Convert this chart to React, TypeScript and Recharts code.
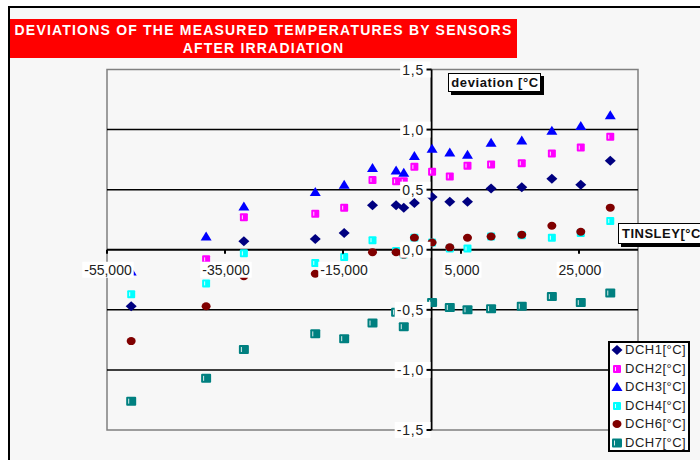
import React from 'react';
import { ScatterChart, Scatter, XAxis, YAxis, ReferenceLine, ReferenceArea } from 'recharts';

// ---------- data ----------
const tinsley = [-50.9, -38.2, -31.8, -19.7, -14.8, -10.0, -6.0, -4.7, -2.9, 0.1, 3.1, 6.1, 10.1, 15.3, 20.4, 25.3, 30.3];
const dch1 = [-0.47, -0.18, 0.07, 0.09, 0.14, 0.37, 0.37, 0.35, 0.39, 0.44, 0.40, 0.40, 0.51, 0.52, 0.59, 0.54, 0.74];
const dch2 = [null, -0.08, 0.27, 0.30, 0.35, 0.58, 0.57, 0.57, 0.69, 0.65, 0.61, 0.70, 0.71, 0.72, 0.80, 0.85, 0.94];
const dch3 = [-0.18, 0.11, 0.36, 0.48, 0.54, 0.68, 0.66, 0.64, 0.78, 0.84, 0.81, 0.79, 0.89, 0.91, 0.99, 1.03, 1.12];
const dch4 = [-0.37, -0.28, -0.03, -0.11, -0.06, 0.08, -0.01, -0.04, 0.10, 0.06, 0.01, 0.01, 0.11, 0.12, 0.10, 0.14, 0.24];
const dch6 = [-0.76, -0.47, -0.22, -0.20, null, -0.02, -0.02, -0.04, 0.10, 0.06, 0.02, 0.10, 0.11, 0.125, 0.20, 0.15, 0.35];
const dch7 = [-1.26, -1.07, -0.83, -0.70, -0.74, -0.61, -0.52, -0.64, null, -0.44, -0.48, -0.50, -0.49, -0.47, -0.39, -0.44, -0.36];

const seriesNames = ['DCH1[°C]', 'DCH2[°C]', 'DCH3[°C]', 'DCH4[°C]', 'DCH6[°C]', 'DCH7[°C]'];
const xTicks = [-55, -35, -15, 5, 25];
const yTicks = [-1.5, -1, -0.5, 0, 0.5, 1, 1.5];
const gridValues = [-1, -0.5, 0.5, 1];
const xDomain = [-55, 35];
const yDomain = [-1.5, 1.5];

const titleLines = ['DEVIATIONS OF THE MEASURED TEMPERATURES BY SENSORS', 'AFTER IRRADIATION'];
const yTitle = 'deviation [°C';
const xTitle = 'TINSLEY[°C';

// ---------- layout ----------
const W = 690;
const H = 452;
const AX = 1; // axis thickness reserved
const M = { top: 61.5, right: 62, bottom: 30 - AX, left: 97 - AX };
const PL = M.left + AX;
const PT = M.top;
const PW = W - PL - M.right;
const PH = H - PT - M.bottom - AX;
const ZERO_X = PL + (PW * (0 - xDomain[0])) / (xDomain[1] - xDomain[0]);
const ZERO_Y = PT + (PH * (yDomain[1] - 0)) / (yDomain[1] - yDomain[0]);
const FONT = '"Liberation Sans", Arial, sans-serif';

const toPoints = (ys: (number | null)[]) =>
  tinsley.map((x, i) => ({ x, y: ys[i] })).filter((p) => p.y !== null);

const charW: Record<string, number> = { ',': 0.278, '.': 0.278, '-': 0.333 };
const textWidth = (s: string, size: number, ls = 0) =>
  s.split('').reduce((a, c) => a + (charW[c] ?? 0.556) * size + ls, 0);

const fmtX = (v: number) => v.toFixed(3).replace('.', ',');
const fmtY = (v: number) => v.toFixed(1).replace('.', ',');

// ---------- marker shapes ----------
const DiamondM = ({ cx, cy }: any) => (
  <polygon points={`${cx},${cy - 5} ${cx + 5.5},${cy} ${cx},${cy + 5} ${cx - 5.5},${cy}`} fill="#000080" />
);
const TriangleM = ({ cx, cy }: any) => (
  <polygon points={`${cx},${cy - 5} ${cx + 5.5},${cy + 4} ${cx - 5.5},${cy + 4}`} fill="#0000ff" />
);
const CircleM = ({ cx, cy }: any) => <ellipse cx={cx} cy={cy} rx={4.5} ry={4} fill="#800000" />;
const makeSquare = (color: string, w: number, h: number) => ({ cx, cy }: any) => (
  <g>
    <rect x={cx - w / 2} y={cy - h / 2} width={w} height={h} fill={color} rx={1} />
    <rect x={cx - w / 2 + 2} y={cy - h / 2 + 2} width={1} height={h - 4} fill="#ffffff" opacity={0.85} />
  </g>
);
const MagentaSq = makeSquare('#ff00ff', 8, 8);
const CyanSq = makeSquare('#00ffff', 8, 8);
const TealSq = makeSquare('#008080', 10, 9);

const shapes = [DiamondM, MagentaSq, TriangleM, CyanSq, CircleM, TealSq];
const seriesData = [dch1, dch2, dch3, dch4, dch6, dch7];

// ---------- ticks ----------
const renderXTick = (props: any) => {
  const { x, payload } = props;
  const label = fmtX(payload.value);
  const w = textWidth(label, 14) + 4;
  return (
    <g key={`xt-${payload.value}`}>
      <line x1={x} x2={x} y1={ZERO_Y} y2={ZERO_Y + 4} stroke="#000" strokeWidth={2} />
      <rect x={x - w / 2 + 1} y={ZERO_Y + 12} width={w} height={16} fill="#ffffff" />
      <text x={x + 1} y={ZERO_Y + 25.5} textAnchor="middle" fontSize={14} fontFamily={FONT} fill="#222">
        {label}
      </text>
    </g>
  );
};

const renderYTick = (props: any) => {
  const { y, payload } = props;
  const label = fmtY(payload.value);
  const ls = 0.8;
  const w = textWidth(label, 14, ls);
  const end = ZERO_X - 7.5;
  return (
    <g key={`yt-${payload.value}`}>
      <rect x={end - w - 2} y={y - 8} width={ZERO_X - 1 - (end - w - 2)} height={16} fill="#ffffff" />
      <line x1={ZERO_X - 5} x2={ZERO_X} y1={y} y2={y} stroke="#000" strokeWidth={2} />
      <text x={end} y={y + 5} textAnchor="end" fontSize={14} fontFamily={FONT} fill="#222" letterSpacing={ls}>
        {label}
      </text>
    </g>
  );
};

const LegendSymbol = ({ i }: { i: number }) => {
  const S = shapes[i];
  return (
    <svg width={14} height={14} style={{ position: 'absolute', left: 0, top: 2 }}>
      <S cx={7} cy={7} />
    </svg>
  );
};

export default function App() {
  return (
    <div
      style={{
        position: 'absolute',
        left: 8,
        top: 6,
        width: 692,
        height: 454,
        boxSizing: 'border-box',
        borderTop: '2px solid #000',
        borderLeft: '2px solid #000',
        background: '#f7f7f7',
        overflow: 'hidden',
        fontFamily: FONT,
      }}
    >
      <div style={{ position: 'absolute', left: 0, top: 0 }}>
        <ScatterChart width={W} height={H} margin={M}>
          <ReferenceArea
            x1={xDomain[0]}
            x2={xDomain[1]}
            y1={yDomain[0]}
            y2={yDomain[1]}
            fill="none"
            fillOpacity={0}
            stroke="#808080"
            strokeWidth={1.5}
          />
          {gridValues.map((v) => (
            <ReferenceLine key={v} y={v} stroke="#000" strokeWidth={1.5} />
          ))}
          <ReferenceLine x={0} stroke="#000" strokeWidth={2} />
          <ReferenceLine y={0} stroke="#000" strokeWidth={2} />
          {seriesData.map((d, i) => (
            <Scatter
              key={seriesNames[i]}
              name={seriesNames[i]}
              data={toPoints(d)}
              shape={shapes[i]}
              isAnimationActive={false}
            />
          ))}
          <XAxis
            type="number"
            dataKey="x"
            domain={xDomain}
            ticks={xTicks}
            interval={0}
            height={AX}
            axisLine={false}
            tickLine={false}
            tick={renderXTick}
            allowDataOverflow
          />
          <YAxis
            type="number"
            dataKey="y"
            domain={yDomain}
            ticks={yTicks}
            interval={0}
            width={AX}
            axisLine={false}
            tickLine={false}
            tick={renderYTick}
            allowDataOverflow
          />
        </ScatterChart>
      </div>

      {/* title */}
      <div
        style={{
          position: 'absolute',
          left: 0,
          top: 11,
          width: 507,
          height: 39,
          background: '#ff0000',
          color: '#ffffff',
          fontWeight: 'bold',
          fontSize: 14,
          letterSpacing: 1.2,
          lineHeight: '18px',
          paddingTop: 2,
          boxSizing: 'border-box',
          textAlign: 'center',
          whiteSpace: 'nowrap',
        }}
      >
        {titleLines.map((t) => (
          <div key={t}>{t}</div>
        ))}
      </div>

      {/* y axis title */}
      <div
        style={{
          position: 'absolute',
          left: 438.3,
          top: 65.3,
          width: 93,
          height: 19,
          boxSizing: 'border-box',
          background: '#ffffff',
          border: '1px solid #000',
          boxShadow: '3px 3px 0 #000',
          fontWeight: 'bold',
          fontSize: 13,
          letterSpacing: 0.6,
          lineHeight: '17px',
          paddingLeft: 2,
          whiteSpace: 'nowrap',
          overflow: 'hidden',
          color: '#111',
        }}
      >
        {yTitle}
      </div>

      {/* x axis title */}
      <div
        style={{
          position: 'absolute',
          left: 608,
          top: 215,
          width: 100,
          height: 21,
          boxSizing: 'border-box',
          background: '#ffffff',
          border: '1px solid #000',
          boxShadow: '3px 3px 0 #000',
          fontWeight: 'bold',
          fontSize: 13,
          letterSpacing: 0.5,
          lineHeight: '19px',
          paddingLeft: 3,
          whiteSpace: 'nowrap',
          overflow: 'hidden',
          color: '#111',
        }}
      >
        {xTitle}
      </div>

      {/* legend */}
      <div
        style={{
          position: 'absolute',
          left: 598,
          top: 333,
          width: 82,
          height: 111,
          boxSizing: 'border-box',
          background: '#ffffff',
          border: '2px solid #000',
        }}
      >
        {seriesNames.map((n, i) => (
          <div
            key={n}
            style={{
              position: 'absolute',
              left: 0,
              right: 0,
              top: 7.25 + 18.5 * i - 9,
              height: 18,
              lineHeight: '18px',
            }}
          >
            <LegendSymbol i={i} />
            <span
              style={{
                position: 'absolute',
                left: 15,
                top: 0,
                fontSize: 13,
                letterSpacing: 0.5,
                color: '#222',
                whiteSpace: 'nowrap',
              }}
            >
              {n}
            </span>
          </div>
        ))}
      </div>
    </div>
  );
}
